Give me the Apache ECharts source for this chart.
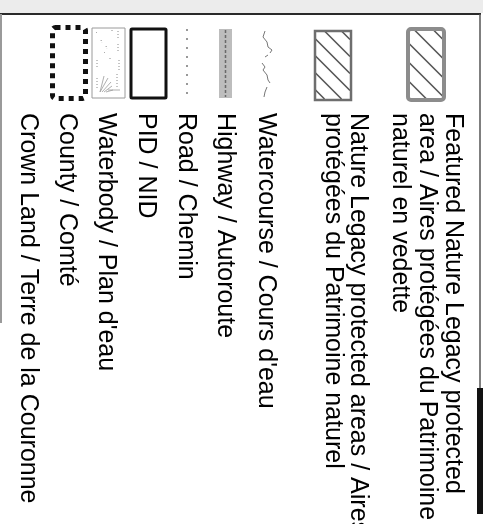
<!DOCTYPE html>
<html>
<head>
<meta charset="UTF-8">
<title>Legend</title>
<script src="https://cdn.jsdelivr.net/npm/echarts@6/dist/echarts.min.js"></script>
<style>
    html,body{margin:0;padding:0;background:#fff;}
    #legend{width:483px;height:524px;}
</style>
</head>
<body>
<div id="legend"></div>
<script>
    // legend entries, one array of text lines per entry (right to left on the page)
    var labels = [
        ['Featured Nature Legacy protected', 'area / Aires protégées du Patrimoine', 'naturel en vedette'],
        ['Nature Legacy protected areas / Aires', 'protégées du Patrimoine naturel'],
        ['Watercourse / Cours d\'eau'],
        ['Highway / Autoroute'],
        ['Road / Chemin'],
        ['PID / NID'],
        ['Waterbody / Plan d\'eau'],
        ['County / Comté'],
        ['Crown Land / Terre de la Couronne']
    ];
    var symbols = ['featured', 'legacy', 'water', 'highway', 'road', 'pid', 'waterbody', 'county', 'none'];

    // layout (page is a rotated scan: entries run right->left, text top->bottom)
    var lineX = [[453, 427, 400], [358, 333], [266], [225], [186], [146], [106], [67], [28]];
    var textTop = 113;
    var fontSize = 25;

    function hatch(x1, y1, x2, y2, step, color, w) {
        var out = [];
        for (var k = y1 - x2 + step / 2; k < y2 - x1; k += step) {
            var xa = Math.max(x1, y1 - k), xb = Math.min(x2, y2 - k);
            if (xb - xa < 1) continue;
            out.push({type: 'line', shape: {x1: xa, y1: xa + k, x2: xb, y2: xb + k},
                style: {stroke: color, lineWidth: w}});
        }
        return out;
    }

    function symbolGraphic(kind) {
        var g = [];
        if (kind === 'featured') {
            g = g.concat(hatch(409, 30, 443, 99, 19, '#555', 1.6));
            g.push({type: 'rect', shape: {x: 408, y: 29, width: 36, height: 71, r: 3},
                style: {fill: 'none', stroke: '#8c8c8c', lineWidth: 4}});
        } else if (kind === 'legacy') {
            g = g.concat(hatch(315, 31, 350, 99, 17, '#555', 1.6));
            g.push({type: 'rect', shape: {x: 315, y: 31, width: 36, height: 69},
                style: {fill: 'none', stroke: '#6e6e6e', lineWidth: 2.5}});
        } else if (kind === 'water') {
            var segs = [
                [[265, 31], [263, 37], [267, 42], [268, 47], [272, 50], [270, 53]],
                [[268, 55], [265, 57]],
                [[262, 63], [265, 67], [263, 70], [267, 75], [268, 80], [270, 83]],
                [[267, 87], [265, 92], [264, 97]]
            ];
            segs.forEach(function (p) {
                g.push({type: 'polyline', shape: {points: p}, style: {stroke: '#777', lineWidth: 1, fill: 'none'}});
            });
        } else if (kind === 'highway') {
            g.push({type: 'rect', shape: {x: 219, y: 29, width: 13, height: 69}, style: {fill: '#bdbdbd'}});
            g.push({type: 'line', shape: {x1: 225.5, y1: 30, x2: 225.5, y2: 97},
                style: {stroke: '#6a6a6a', lineWidth: 1.5, lineDash: [3, 2]}});
        } else if (kind === 'road') {
            g.push({type: 'line', shape: {x1: 187, y1: 29, x2: 187, y2: 98},
                style: {stroke: '#555', lineWidth: 1.2, lineDash: [2, 7]}});
        } else if (kind === 'pid') {
            g.push({type: 'rect', shape: {x: 131, y: 29, width: 35, height: 69, r: 1},
                style: {fill: 'none', stroke: '#111', lineWidth: 3}});
        } else if (kind === 'waterbody') {
            g.push({type: 'rect', shape: {x: 92, y: 28, width: 33, height: 70},
                style: {fill: '#fff', stroke: '#9a9a9a', lineWidth: 1}});
            var marks = [[96, 32, 98, 34], [101, 40, 102, 43], [106, 46, 107, 49], [104, 52, 106, 54],
                [118, 31, 118, 40], [118, 44, 118, 52], [119, 60, 119, 70], [117, 74, 117, 88],
                [112, 30, 112, 33], [97, 60, 97, 68], [97, 78, 97, 90], [110, 58, 110, 61]];
            marks.forEach(function (m) {
                g.push({type: 'line', shape: {x1: m[0], y1: m[1], x2: m[2], y2: m[3]},
                    style: {stroke: '#8a8a8a', lineWidth: 1, lineDash: [1, 2]}});
            });
            [[100, 92, 108, 78], [102, 92, 111, 82], [104, 92, 112, 86], [106, 92, 113, 90], [100, 92, 104, 76]]
                .forEach(function (m) {
                    g.push({type: 'line', shape: {x1: m[0], y1: m[1], x2: m[2], y2: m[3]},
                        style: {stroke: '#9a9a9a', lineWidth: 0.8}});
                });
            g.push({type: 'line', shape: {x1: 108, y1: 90, x2: 120, y2: 90}, style: {stroke: '#9a9a9a', lineWidth: 0.8}});
        } else if (kind === 'county') {
            g.push({type: 'rect', shape: {x: 52.5, y: 27.5, width: 33, height: 71, r: 3},
                style: {fill: 'none', stroke: '#111', lineWidth: 5, lineDash: [5, 5]}});
        }
        return g;
    }

    var elements = [];
    // scan background band + frame
    elements.push({type: 'rect', shape: {x: 0, y: 0, width: 483, height: 13}, style: {fill: '#ececec'}});
    elements.push({type: 'line', shape: {x1: 0, y1: 14, x2: 481, y2: 14}, style: {stroke: '#2a2a2a', lineWidth: 2}});
    elements.push({type: 'line', shape: {x1: 1, y1: 14, x2: 1, y2: 323}, style: {stroke: '#9a9a9a', lineWidth: 2}});
    elements.push({type: 'line', shape: {x1: 480, y1: 14, x2: 480, y2: 390}, style: {stroke: '#555', lineWidth: 1.5}});
    elements.push({type: 'rect', shape: {x: 477, y: 388, width: 6, height: 126}, style: {fill: '#111'}});

    labels.forEach(function (lines, i) {
        elements = elements.concat(symbolGraphic(symbols[i]));
        lines.forEach(function (t, j) {
            elements.push({
                type: 'text',
                x: lineX[i][j],
                y: textTop,
                rotation: -Math.PI / 2,
                style: {
                    text: t,
                    x: 0, y: 0,
                    fill: '#000',
                    font: fontSize + 'px "Liberation Sans", Arial, sans-serif',
                    align: 'left',
                    verticalAlign: 'middle'
                }
            });
        });
    });

    var chart = echarts.init(document.getElementById('legend'), null, {renderer: 'canvas'});
    chart.setOption({
        backgroundColor: '#fff',
        animation: false,
        graphic: {elements: elements}
    });
</script>
</body>
</html>
